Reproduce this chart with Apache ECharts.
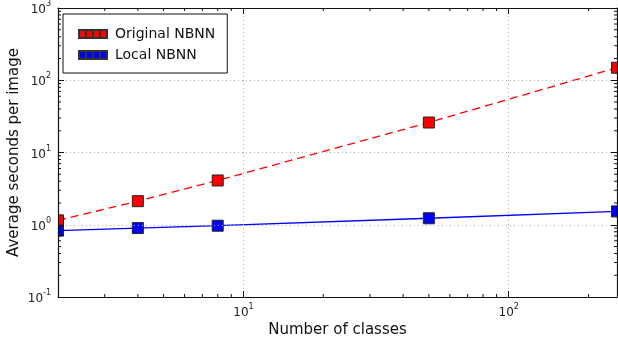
<!DOCTYPE html>
<html><head><meta charset="utf-8">
<script src="https://cdn.jsdelivr.net/npm/echarts@6/dist/echarts.min.js"></script>
<style>html,body{margin:0;padding:0;background:#fff}#c{width:618px;height:341px}</style>
</head><body><div id="c"></div>
<script>
var classes = [2, 4, 8, 50, 256];
var originalNBNN = [1.15, 2.12, 4.1, 26, 149];
var localNBNN = [0.83, 0.90, 0.97, 1.23, 1.53];
var xRange = [2, 256];
var yRange = [0.1, 1000];
var xMinorTicks = [3,4,5,6,7,8,9,20,30,40,50,60,70,80,90,200];
var yMinorTicks = [0.2,0.3,0.4,0.5,0.6,0.7,0.8,0.9,2,3,4,5,6,7,8,9,20,30,40,50,60,70,80,90,200,300,400,500,600,700,800,900];

var FONT = 'DejaVu Sans';
function powLabel(v){
  var e = Math.round(Math.log10(v));
  if (Math.abs(Math.log10(v) - e) > 1e-6) return '';
  return '{b|10}{s|' + e + '}';
}
var rich = {
  b:{fontFamily:FONT,fontSize:12,color:'#222',lineHeight:16,verticalAlign:'bottom'},
  s:{fontFamily:FONT,fontSize:8,color:'#222',lineHeight:8,verticalAlign:'top'}
};
function pairs(xs, ys){ return xs.map(function(x,i){return [x, ys[i]];}); }
var icon = 'path://M0,0h7v8h-7z M7,0h7v8h-7z M14,0h7v8h-7z M21,0h7v8h-7z';

function axisCommon(){
  return {
    type:'log', logBase:10, z:6,
    axisLine:{show:true,onZero:false,lineStyle:{color:'#111',width:1.2}},
    axisTick:{show:true,inside:true,length:6,lineStyle:{color:'#111',width:1}},
    minorTick:{show:false},
    splitLine:{show:false}
  };
}
var xBottom = Object.assign(axisCommon(), {
  position:'bottom', min:xRange[0], max:xRange[1],
  name:'Number of classes', nameLocation:'middle', nameGap:26, nameMoveOverlap:false,
  nameTextStyle:{fontFamily:FONT,fontSize:15,color:'#111'},
  axisLabel:{formatter:powLabel,rich:rich,margin:6,showMinLabel:true,showMaxLabel:true},
  splitLine:{show:true,lineStyle:{color:'#b0b0b0',type:[1,3],width:1}}
});
var xTop = Object.assign(axisCommon(), {
  position:'top', min:xRange[0], max:xRange[1], axisLabel:{show:false}
});
var yLeft = Object.assign(axisCommon(), {
  position:'left', min:yRange[0], max:yRange[1],
  name:'Average seconds per image', nameLocation:'middle', nameGap:36, nameMoveOverlap:false,
  nameTextStyle:{fontFamily:FONT,fontSize:15,color:'#111'},
  axisLabel:{formatter:powLabel,rich:rich,margin:7},
  splitLine:{show:true,lineStyle:{color:'#b0b0b0',type:[1,3],width:1}}
});
var yRight = Object.assign(axisCommon(), {
  position:'right', min:yRange[0], max:yRange[1], axisLabel:{show:false}
});

function minorSeries(values, isX){
  return {
    type:'custom', xAxisIndex:0, yAxisIndex:0, silent:true, clip:false,
    data: values.map(function(v){ return isX ? [v, 1] : [xRange[0]*2, v]; }),
    renderItem:function(params, api){
      var a, b, L = 3, style = {stroke:'#111', lineWidth:1};
      if (isX){
        var v = api.value(0);
        a = api.coord([v, yRange[0]]); b = api.coord([v, yRange[1]]);
        return {type:'group',children:[
          {type:'line',shape:{x1:a[0],y1:a[1],x2:a[0],y2:a[1]-L},style:style},
          {type:'line',shape:{x1:b[0],y1:b[1],x2:b[0],y2:b[1]+L},style:style}
        ]};
      } else {
        var w = api.value(1);
        a = api.coord([xRange[0], w]); b = api.coord([xRange[1], w]);
        return {type:'group',children:[
          {type:'line',shape:{x1:a[0],y1:a[1],x2:a[0]+L,y2:a[1]},style:style},
          {type:'line',shape:{x1:b[0],y1:b[1],x2:b[0]-L,y2:b[1]},style:style}
        ]};
      }
    },
    z:5
  };
}
function markerSeries(ys, color){
  return {
    type:'custom', xAxisIndex:0, yAxisIndex:0, clip:true, silent:true,
    data:pairs(classes, ys),
    renderItem:function(params, api){
      var p = api.coord([api.value(0), api.value(1)]), s = 11;
      return {type:'rect',shape:{x:p[0]-s/2,y:p[1]-s/2,width:s,height:s},
        style:{fill:color,stroke:'#222',lineWidth:1}};
    },
    z:4
  };
}

var chart = echarts.init(document.getElementById('c'), null, {renderer:'canvas'});
chart.setOption({
  animation:false,
  grid:{left:58,right:1,top:8,bottom:44,containLabel:false,outerBoundsMode:'none'},
  xAxis:[xBottom, xTop],
  yAxis:[yLeft, yRight],
  legend:{
    left:63, top:14, orient:'vertical', z:8,
    data:[{name:'Original NBNN',icon:icon},{name:'Local NBNN',icon:icon}],
    itemWidth:28, itemHeight:8, itemGap:7,
    padding:[13,12,11,15],
    borderColor:'#111', borderWidth:1, borderRadius:0, backgroundColor:'#fff',
    textStyle:{fontFamily:FONT,fontSize:14,color:'#111',padding:[0,0,0,3]}
  },
  series:[
    {
      name:'Original NBNN', type:'line', xAxisIndex:0, yAxisIndex:0,
      data:pairs(classes, originalNBNN),
      symbol:'none', clip:true,
      lineStyle:{color:'#ff0000',width:1.3,type:[8,5]},
      itemStyle:{color:'#ff0000',borderColor:'#333',borderWidth:1},
      z:3
    },
    {
      name:'Local NBNN', type:'line', xAxisIndex:0, yAxisIndex:0,
      data:pairs(classes, localNBNN),
      symbol:'none', clip:true,
      lineStyle:{color:'#0000ff',width:1.3},
      itemStyle:{color:'#0000ff',borderColor:'#333',borderWidth:1},
      z:3
    },
    markerSeries(originalNBNN, '#ff0000'),
    markerSeries(localNBNN, '#0000ff'),
    minorSeries(xMinorTicks, true),
    minorSeries(yMinorTicks, false)
  ]
});
</script></body></html>
